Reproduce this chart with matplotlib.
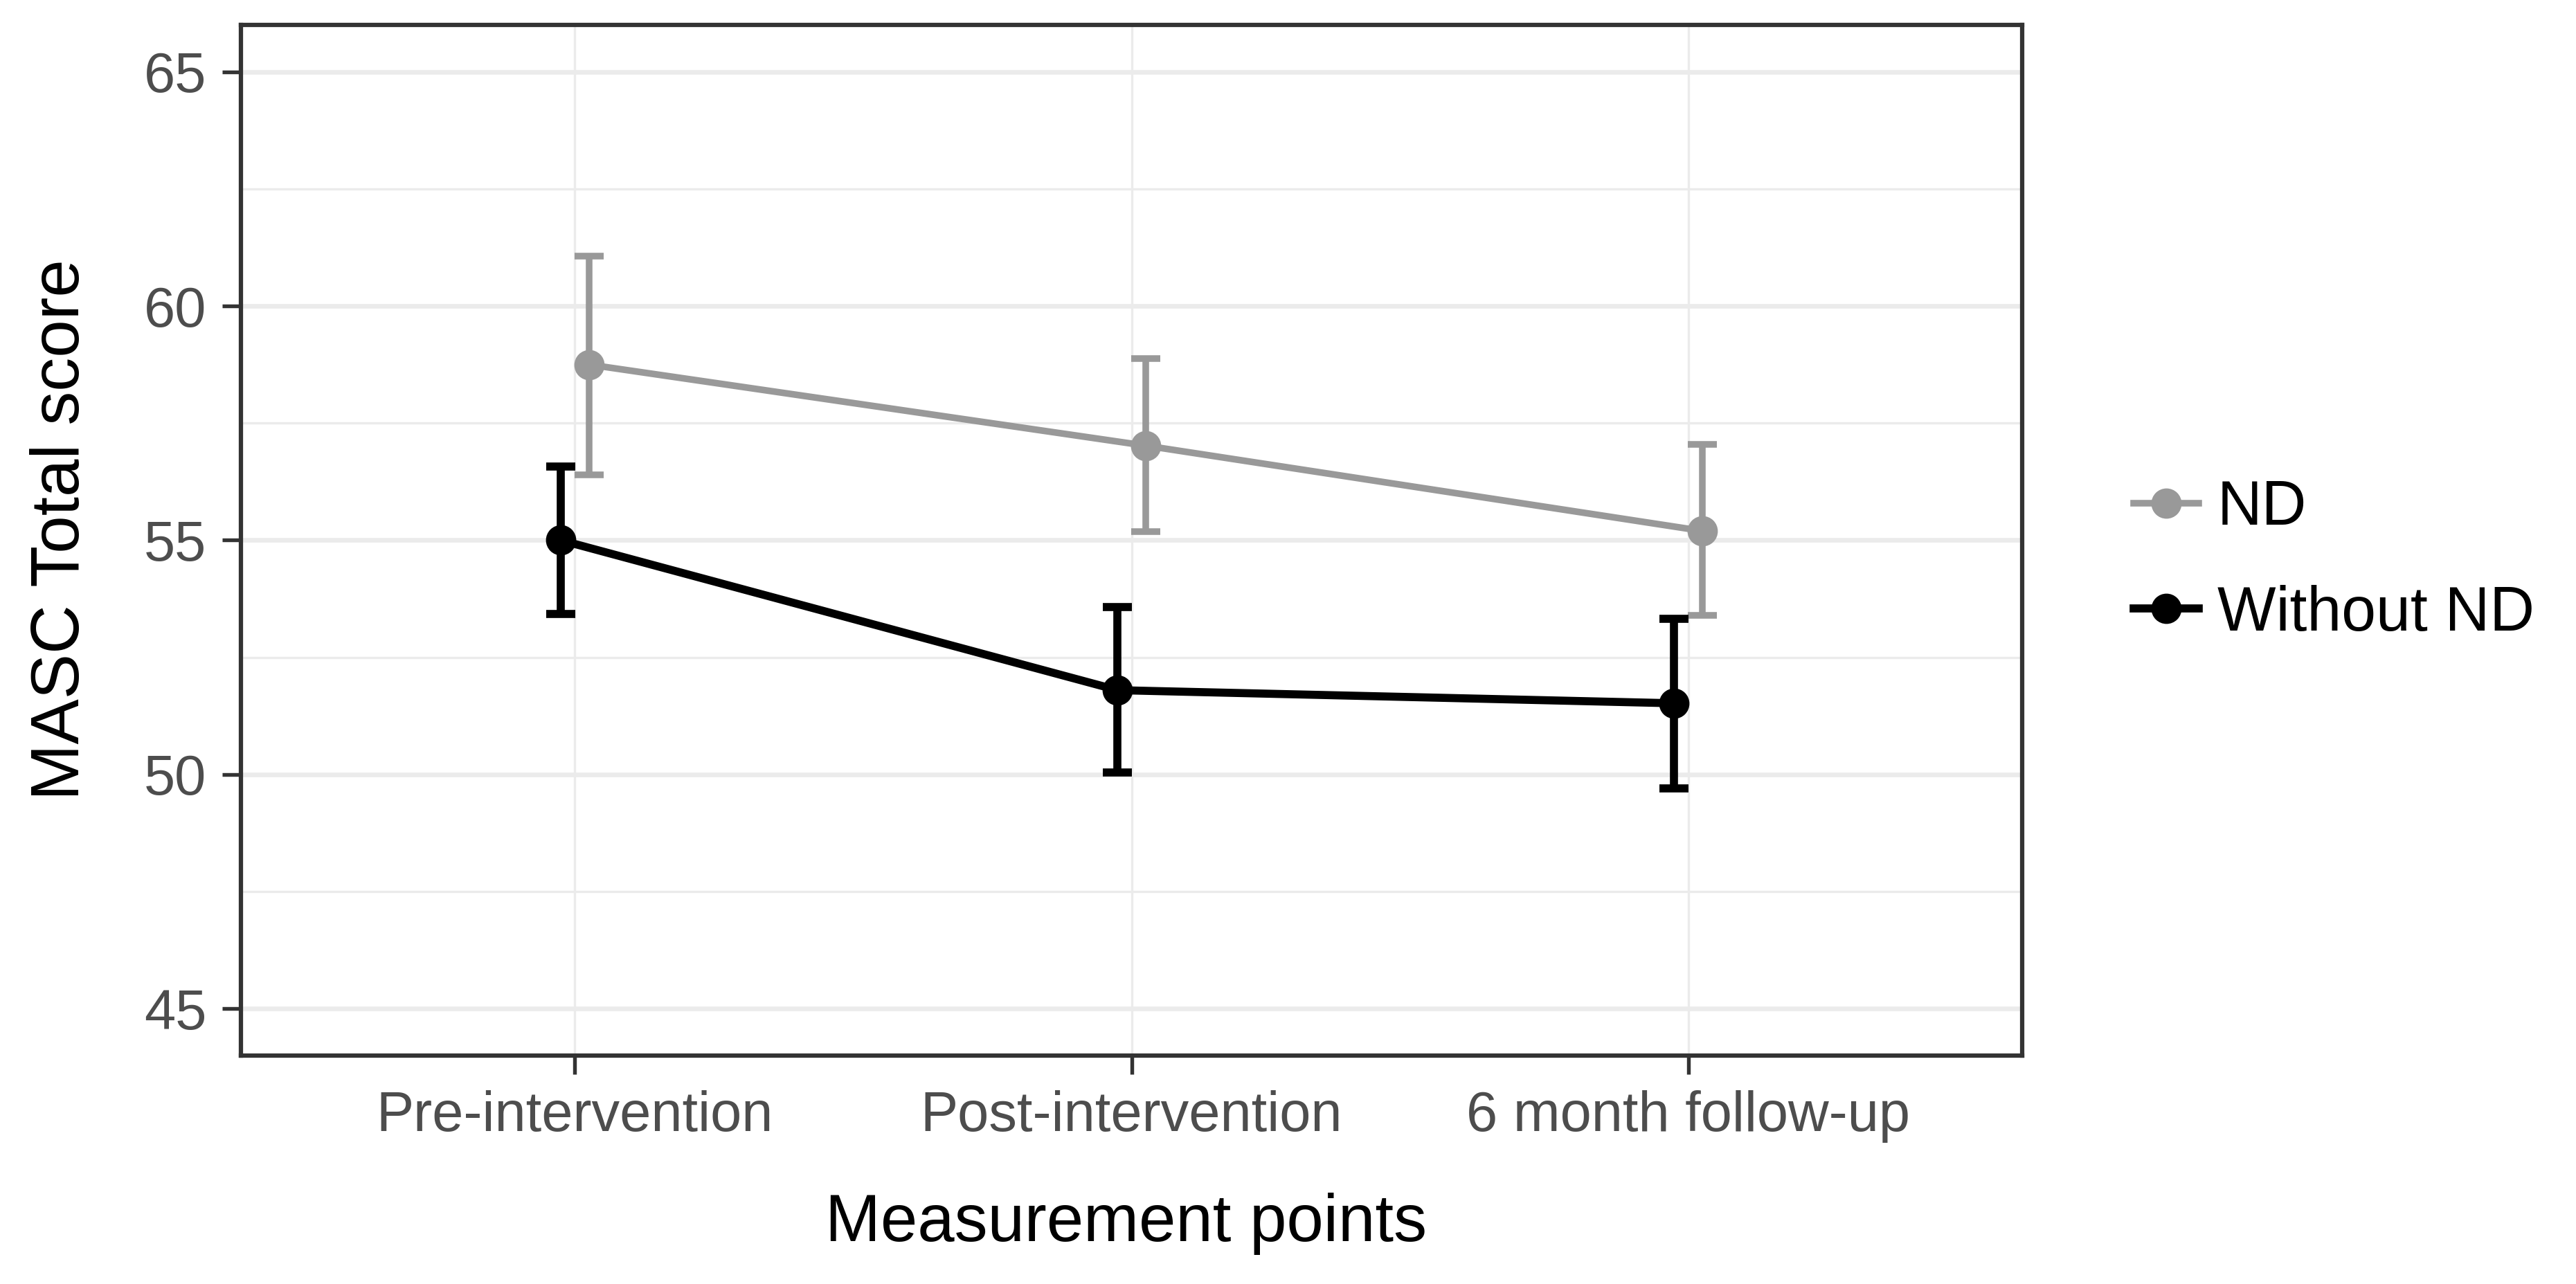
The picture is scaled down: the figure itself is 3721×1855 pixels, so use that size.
import matplotlib
matplotlib.use("Agg")
import matplotlib.pyplot as plt
import numpy as np

plt.rcParams['font.family'] = ['Liberation Sans', 'DejaVu Sans']

# data
time_points = ["Pre-intervention", "Post-intervention", "6 month follow-up"]
nd_mean = [58.75, 57.02, 55.2]
nd_upper = [61.07, 58.88, 57.04]
nd_lower = [56.4, 55.18, 53.39]
wo_mean = [55.0, 51.8, 51.52]
wo_upper = [56.57, 53.57, 53.33]
wo_lower = [53.43, 50.05, 49.7]
groups = ["ND", "Without ND"]

fig = plt.figure(figsize=(3721 / 300, 1855 / 300), dpi=300)
ax = fig.add_axes([348 / 3721, 1 - 1525 / 1855, (2921 - 348) / 3721, (1525 - 36) / 1855])

x = np.arange(1, len(time_points) + 1)
dodge = 0.025

# gray series (ND) dodged right, black series dodged left
series = [
    (nd_mean, nd_lower, nd_upper, "#999999", x + dodge, 2.3),
    (wo_mean, wo_lower, wo_upper, "black", x - dodge, 2.8),
]
for (m, lo, hi, col, xs, lw), name in zip(series, groups):
    m = np.array(m)
    err = [m - np.array(lo), np.array(hi) - m]
    ax.errorbar(xs, m, yerr=err, fmt="none", ecolor=col, elinewidth=lw,
                capsize=5, capthick=lw, zorder=3)
    ax.plot(xs, m, color=col, lw=lw, marker="o", markersize=9.5,
            label=name, zorder=4)

ax.set_xlim(0.4, 3.6)
ax.set_ylim(44, 66)
ax.set_xticks(x)
ax.set_xticklabels(time_points)
ax.set_yticks([45, 50, 55, 60, 65])
ax.set_yticks([47.5, 52.5, 57.5, 62.5], minor=True)

# theme_bw style grid
ax.set_axisbelow(True)
ax.grid(axis="y", which="major", color="#EBEBEB", lw=1.6)
ax.grid(axis="y", which="minor", color="#EBEBEB", lw=0.8)
ax.grid(axis="x", which="major", color="#EBEBEB", lw=0.8)
for s in ax.spines.values():
    s.set_color("#333333")
    s.set_linewidth(1.5)

ax.tick_params(axis="both", which="major", length=6.5, width=1.3,
               color="#333333", labelsize=19.5, labelcolor="#4D4D4D", pad=5.5)
ax.tick_params(axis="y", which="minor", length=0)

ax.set_ylabel("MASC Total score", fontsize=23.5, color="black")
ax.set_xlabel("Measurement points", fontsize=23, color="black")
ax.yaxis.label.set_va("center")
ax.xaxis.label.set_va("center")
ax.yaxis.set_label_coords(-0.101, 0.51)
ax.xaxis.set_label_coords(0.497, -0.163)

fig.legend(loc="center left", bbox_to_anchor=(3082 / 3721, 1 - 811 / 1855),
           frameon=False, fontsize=21.5, handlelength=1.05, handletextpad=0.3,
           labelspacing=0.75, borderpad=0, borderaxespad=0)

fig.savefig("out.png", dpi=300, facecolor="white")
